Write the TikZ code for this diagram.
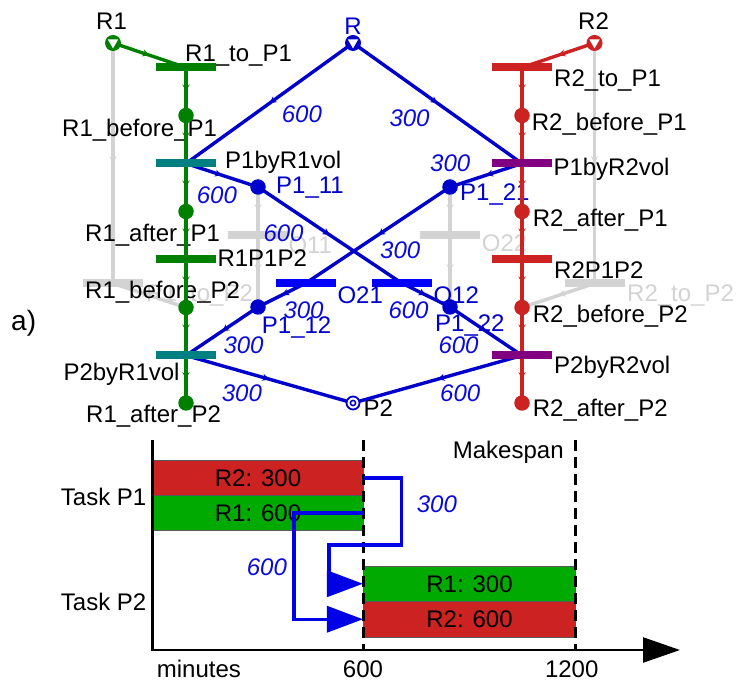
\documentclass[tikz,border=0pt]{standalone}
\usepackage{fontspec}
\setmainfont{Liberation Sans}
\usetikzlibrary{arrows.meta,decorations.markings}
\definecolor{pnblue}{RGB}{0,0,204}
\definecolor{obar}{RGB}{0,0,250}
\definecolor{wblue}{RGB}{10,10,220}
\definecolor{rgreen}{RGB}{0,128,0}
\definecolor{rred}{RGB}{204,34,34}
\definecolor{rteal}{RGB}{0,128,128}
\definecolor{rpurple}{RGB}{128,0,128}
\definecolor{idle}{RGB}{211,211,211}
\definecolor{ggreen}{RGB}{0,170,0}
\definecolor{gred}{RGB}{204,34,34}
\definecolor{gblue}{RGB}{0,0,230}
\pgfdeclarelayer{greylayer}
\pgfdeclarelayer{textlayer}
\pgfdeclarelayer{arclayer}
\pgfsetlayers{greylayer,textlayer,arclayer,main}
\begin{document}
\begin{tikzpicture}[x=1pt,y=-1pt,
  txt/.style={font=\fontsize{24}{28}\selectfont, inner sep=0pt, anchor=base west},
  wt/.style={txt, text=wblue, font=\fontsize{24}{28}\selectfont\itshape},
  bar/.style={rectangle, minimum width=60pt, minimum height=8pt, inner sep=0pt, fill=#1},
  tok/.style={circle, minimum size=15.5pt, inner sep=0pt, fill=#1},
  src/.style={circle, minimum size=16pt, inner sep=0pt, fill=#1,
    path picture={\fill[white] ([xshift=-5.2pt,yshift=3.6pt]path picture bounding box.center)
      -- ++(10.4pt,0pt) -- ++(-5.2pt,-9pt) -- cycle;}},
  flow/.style={line width=3.4pt, postaction={decorate},
    decoration={markings, mark=at position 0.5 with {\arrow{Stealth[length=7pt,width=7pt]}}}},
  gbar/.style={rectangle, inner sep=0pt, draw=black!65, line width=0.7pt,
    font=\fontsize{24}{28}\selectfont},
  glink/.style={gblue, line width=3.4pt, -{Triangle[length=36pt,width=26pt]}},
]
\path[use as bounding box] (0,0) rectangle (739,684);

% ---------------- Petri net ----------------
% resource places
\node[src=rgreen] (R1) at (113,43) {};
\node[src=pnblue] (R) at (353,43) {};
\node[src=rred] (R2) at (594.5,43) {};

% resource R1 chain
\node[bar=rgreen] (r1top1) at (186,67.5) {};
\node[tok=rgreen] (r1bp1) at (186,115.5) {};
\node[bar=rteal] (p1r1) at (186,163.5) {};
\node[tok=rgreen] (r1ap1) at (186,211.5) {};
\node[bar=rgreen] (r1p1p2) at (186,259.5) {};
\node[tok=rgreen] (r1bp2) at (186,307.5) {};
\node[bar=rteal] (p2r1) at (186,355.5) {};
\node[tok=rgreen] (r1ap2) at (186,403) {};

% resource R2 chain
\node[bar=rred] (r2top1) at (522,67.5) {};
\node[tok=rred] (r2bp1) at (522,115.5) {};
\node[bar=rpurple] (p1r2) at (522,163.5) {};
\node[tok=rred] (r2ap1) at (522,211.5) {};
\node[bar=rred] (r2p1p2) at (522,259.5) {};
\node[tok=rred] (r2bp2) at (522,307.5) {};
\node[bar=rpurple] (p2r2) at (522,355.5) {};
\node[tok=rred] (r2ap2) at (522,403) {};

% product places and order transitions
\node[tok=pnblue] (p111) at (258,187) {};
\node[tok=pnblue] (p121) at (450,187) {};
\node[tok=pnblue] (p112) at (258,307) {};
\node[tok=pnblue] (p122) at (450,307) {};
\node[bar=obar] (o21) at (306,283) {};
\node[bar=obar] (o12) at (401.5,283) {};
\node[circle, minimum size=13pt, inner sep=0pt, draw=pnblue, line width=1.8pt, fill=white] (P2) at (353,403) {};
\draw[pnblue, line width=1.5pt] (P2.center) circle (2.6pt);

% inactive alternatives
\begin{pgfonlayer}{greylayer}
\node[bar=idle] (r1top2) at (113,283.5) {};
\node[bar=idle] (r2top2) at (594.5,283.5) {};
\node[bar=idle] (o11) at (258,235.5) {};
\node[bar=idle] (o22) at (450,235.5) {};
\draw[flow, idle] (R1.center) -- (r1top2.center);
\draw[flow, idle] (r1top2.center) -- (r1bp2.center);
\draw[flow, idle] (R2.center) -- (r2top2.center);
\draw[flow, idle] (r2top2.center) -- (r2bp2.center);
\draw[flow, idle] (p111.center) -- (o11.center);
\draw[flow, idle] (o11.center) -- (p112.center);
\draw[flow, idle] (p121.center) -- (o22.center);
\draw[flow, idle] (o22.center) -- (p122.center);
\node[txt, text=idle] at (146,302) {R1\_to\_P2};
\node[txt, text=idle] at (627,302) {R2\_to\_P2};
\node[txt, text=idle] at (288.3,253.7) {O11};
\node[txt, text=idle] at (481.7,252) {O22};
\end{pgfonlayer}

% arcs
\begin{pgfonlayer}{arclayer}
\draw[flow, rgreen] (R1.center) -- (r1top1.center);
\draw[flow, rgreen] (r1top1.center) -- (r1bp1.center);
\draw[flow, rgreen] (r1bp1.center) -- (p1r1.center);
\draw[flow, rgreen] (p1r1.center) -- (r1ap1.center);
\draw[flow, rgreen] (r1ap1.center) -- (r1p1p2.center);
\draw[flow, rgreen] (r1p1p2.center) -- (r1bp2.center);
\draw[flow, rgreen] (r1bp2.center) -- (p2r1.center);
\draw[flow, rgreen] (p2r1.center) -- (r1ap2.center);

\draw[flow, rred] (R2.center) -- (r2top1.center);
\draw[flow, rred] (r2top1.center) -- (r2bp1.center);
\draw[flow, rred] (r2bp1.center) -- (p1r2.center);
\draw[flow, rred] (p1r2.center) -- (r2ap1.center);
\draw[flow, rred] (r2ap1.center) -- (r2p1p2.center);
\draw[flow, rred] (r2p1p2.center) -- (r2bp2.center);
\draw[flow, rred] (r2bp2.center) -- (p2r2.center);
\draw[flow, rred] (p2r2.center) -- (r2ap2.center);

\draw[flow, pnblue] (R.center) -- (p1r1.center);
\draw[flow, pnblue] (R.center) -- (p1r2.center);
\draw[flow, pnblue] (p1r1.center) -- (p111.center);
\draw[flow, pnblue] (p111.center) -- (o12.center);
\draw[flow, pnblue] (o12.center) -- (p122.center);
\draw[flow, pnblue] (p122.center) -- (p2r2.center);
\draw[flow, pnblue] (p1r2.center) -- (p121.center);
\draw[flow, pnblue] (p121.center) -- (o21.center);
\draw[flow, pnblue] (o21.center) -- (p112.center);
\draw[flow, pnblue] (p112.center) -- (p2r1.center);
\draw[flow, pnblue] (p2r1.center) -- (P2.center);
\draw[flow, pnblue] (p2r2.center) -- (P2.center);
\end{pgfonlayer}

% labels
\begin{pgfonlayer}{textlayer}
\node[txt] at (96,30) {R1};
\node[txt, text=pnblue, anchor=base] at (353,35) {R};
\node[txt] at (578,30) {R2};
\node[txt, font=\fontsize{28}{32}\selectfont] at (11,331) {a)};

\node[txt] at (185,62) {R1\_to\_P1};
\node[txt] at (62,137) {R1\_before\_P1};
\node[txt] at (225,168.7) {P1byR1vol};
\node[txt] at (85,242) {R1\_after\_P1};
\node[txt] at (217.3,267) {R1P1P2};
\node[txt] at (85,298.7) {R1\_before\_P2};
\node[txt] at (63.3,380.3) {P2byR1vol};
\node[txt] at (86,422) {R1\_after\_P2};

\node[txt] at (554,87) {R2\_to\_P1};
\node[txt] at (531.7,130.3) {R2\_before\_P1};
\node[txt] at (553.3,175.3) {P1byR2vol};
\node[txt] at (532.7,227) {R2\_after\_P1};
\node[txt] at (554,278.7) {R2P1P2};
\node[txt] at (532.7,323) {R2\_before\_P2};
\node[txt] at (554,373.7) {P2byR2vol};
\node[txt] at (532.7,417) {R2\_after\_P2};

\node[txt, text=pnblue] at (276,193.7) {P1\_11};
\node[txt, text=pnblue] at (460,200.3) {P1\_21};
\node[txt, text=pnblue] at (261.7,333.7) {P1\_12};
\node[txt, text=pnblue] at (435,332) {P1\_22};
\node[txt, text=pnblue] at (337.3,303.7) {O21};
\node[txt, text=pnblue] at (433.3,303.7) {O12};
\node[txt] at (363.3,417) {P2};

\node[wt] at (281.7,123) {600};
\node[wt] at (389.3,127) {300};
\node[wt] at (196.7,203.7) {600};
\node[wt] at (430,172) {300};
\node[wt] at (263.3,242) {600};
\node[wt] at (380,258.7) {300};
\node[wt] at (283.3,318.7) {300};
\node[wt] at (388.3,318.7) {600};
\node[wt] at (223.3,353.7) {300};
\node[wt] at (438.3,353.7) {600};
\node[wt] at (221.7,402) {300};
\node[wt] at (440,402) {600};
\end{pgfonlayer}

% ---------------- Gantt chart ----------------
\node[gbar, fill=gred, minimum width=210.6pt, minimum height=35pt] (g1r2) at (258,478) {R2: 300};
\node[gbar, fill=ggreen, minimum width=210.6pt, minimum height=35pt] (g1r1) at (258,513) {R1: 600};
\node[gbar, fill=ggreen, minimum width=212.4pt, minimum height=35.5pt] (g2r1) at (469.5,583.75) {R1: 300};
\node[gbar, fill=gred, minimum width=212.4pt, minimum height=35.5pt] (g2r2) at (469.5,619.25) {R2: 600};

\coordinate (origin) at (152.7,650);
\draw[line width=2.5pt, -{Triangle[length=37pt,width=25pt]}] (152.7,440) -- (origin) -- (680,650);
\draw[line width=2.5pt, dash pattern=on 11pt off 6pt] (363.3,440) -- (363.3,650);
\draw[line width=2.5pt, dash pattern=on 11pt off 6pt] (575.7,440) -- (575.7,650);

\draw[glink] (g1r2.east) -| (401.5,545) -| (329,583.75) -- (g2r1.west);
\draw[glink] (g1r1.east) -- (294,513) |- (g2r2.west);

\node[txt] at (60.7,505) {Task P1};
\node[txt] at (60.7,610) {Task P2};
\node[txt] at (156.7,677) {minutes};
\node[txt, anchor=base] at (363,677) {600};
\node[txt, anchor=base] at (571.7,677) {1200};
\node[txt] at (452.7,458.7) {Makespan};
\node[wt] at (246.7,575.3) {600};
\node[wt] at (416.7,512) {300};
\end{tikzpicture}
\end{document}
